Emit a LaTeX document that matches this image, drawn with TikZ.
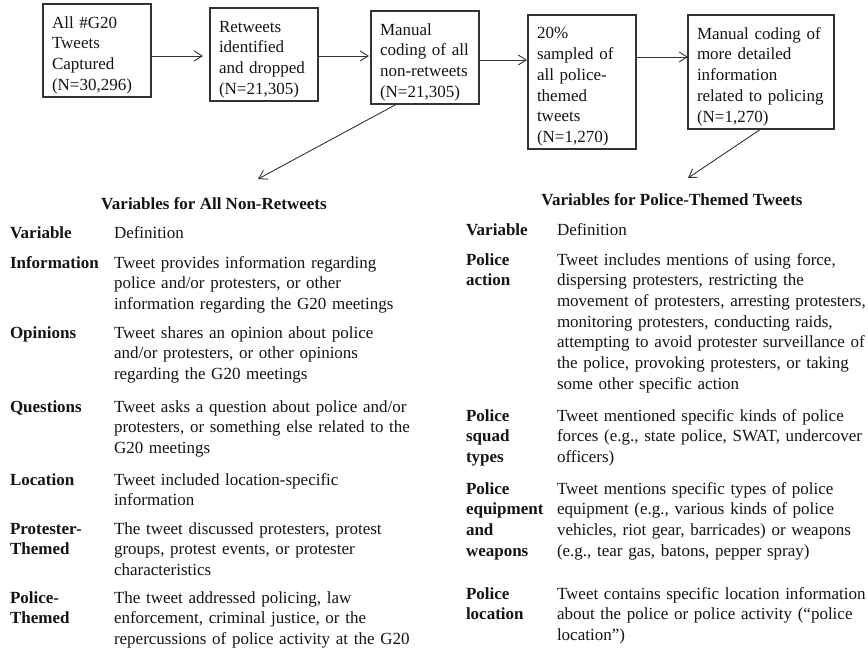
\documentclass[tikz,border=0pt]{standalone}
\usepackage{fontspec}
\setmainfont{Liberation Serif}
\usetikzlibrary{arrows.meta,calc}
\newcommand\boxtopgap{\rule{0pt}{21pt}}
\begin{document}
\begin{tikzpicture}[x=1pt,y=-1pt,
  every node/.style={inner sep=0pt, outer sep=0pt, font=\fontsize{17}{20.7}\selectfont, text=black!92},
  flowbox/.style={draw=black!80, line width=1.1pt, align=left, inner xsep=9pt, inner ysep=0pt, anchor=north west},
  arr/.style={draw=black!80, line width=0.9pt, -{Straight Barb[length=8pt,width=10pt]}},
  varcell/.style={anchor=base west, align=left, text width=100pt, font=\fontsize{17}{20.7}\selectfont\bfseries},
  defcell/.style={anchor=base west, align=left, text width=330pt},
  heading/.style={anchor=base, font=\fontsize{17}{20.7}\selectfont\bfseries},
]
\useasboundingbox[fill=white] (0,0) rectangle (868,650);

% flow boxes
\node[flowbox, text width=90pt, minimum height=93pt] (b1) at (43,4) {\boxtopgap All \#G20\\Tweets\\Captured\\(N=30,296)};
\node[flowbox, text width=90pt, minimum height=93pt] (b2) at (210,8) {\boxtopgap Retweets\\identified\\and dropped\\(N=21,305)};
\node[flowbox, text width=90pt, minimum height=93pt] (b3) at (371,11) {\boxtopgap Manual\\coding of all\\non-retweets\\(N=21,305)};
\node[flowbox, text width=90pt, minimum height=134pt] (b4) at (528,15) {\boxtopgap 20\%\\sampled of\\all police-\\themed\\tweets\\(N=1,270)};
\node[flowbox, text width=128pt, minimum height=114pt] (b5) at (688,15) {\boxtopgap Manual coding of\\more detailed\\information\\related to policing\\(N=1,270)};

\coordinate (ya) at (0,56);
\coordinate (yb) at (0,60);
\coordinate (yc) at (0,57);
\draw[arr, shorten >=7pt] (b1.east |- ya) -- (b2.west |- ya);
\draw[arr, shorten >=2pt] (b2.east |- ya) -- (b3.west |- ya);
\draw[arr, shorten >=1pt] (b3.east |- yb) -- (b4.west |- yb);
\draw[arr] (b4.east |- yc) -- (b5.west |- yc);

\coordinate (d1) at (258,179);
\coordinate (d2) at (688,178);
\draw[arr] ($(b3.south west)!0.24!(b3.south east)$) -- (d1);
\draw[arr] (b5.south) -- (d2);

% headings
\node[heading] (h1) at (214,209) {Variables for All Non-Retweets};
\node[heading] (h2) at (672,206) {Variables for Police-Themed Tweets};

% left table
\node[varcell] (lv0) at (10,238) {Variable};
\node[defcell] (ld0) at (114,238) {Definition};
\node[varcell] (lv1) at (10,268) {Information};
\node[defcell] (ld1) at (114,268) {Tweet provides information regarding\\police and/or protesters, or other\\information regarding the G20 meetings};
\node[varcell] (lv2) at (10,338) {Opinions};
\node[defcell] (ld2) at (114,338) {Tweet shares an opinion about police\\and/or protesters, or other opinions\\regarding the G20 meetings};
\node[varcell] (lv3) at (10,412) {Questions};
\node[defcell] (ld3) at (114,412) {Tweet asks a question about police and/or\\protesters, or something else related to the\\G20 meetings};
\node[varcell] (lv4) at (10,485) {Location};
\node[defcell] (ld4) at (114,485) {Tweet included location-specific\\information};
\node[varcell] (lv5) at (10,534) {Protester-\\Themed};
\node[defcell] (ld5) at (114,534) {The tweet discussed protesters, protest\\groups, protest events, or protester\\characteristics};
\node[varcell] (lv6) at (10,603) {Police-\\Themed};
\node[defcell] (ld6) at (114,603) {The tweet addressed policing, law\\enforcement, criminal justice, or the\\repercussions of police activity at the G20};

% right table
\node[varcell] (rv0) at (466,236) {Variable};
\node[defcell] (rd0) at (557,236) {Definition};
\node[varcell] (rv1) at (466,265) {Police\\action};
\node[defcell] (rd1) at (557,265) {Tweet includes mentions of using force,\\dispersing protesters, restricting the\\movement of protesters, arresting protesters,\\monitoring protesters, conducting raids,\\attempting to avoid protester surveillance of\\the police, provoking protesters, or taking\\some other specific action};
\node[varcell] (rv2) at (466,421) {Police\\squad\\types};
\node[defcell] (rd2) at (557,421) {Tweet mentioned specific kinds of police\\forces (e.g., state police, SWAT, undercover\\officers)};
\node[varcell] (rv3) at (466,494) {Police\\equipment\\and\\weapons};
\node[defcell] (rd3) at (557,494) {Tweet mentions specific types of police\\equipment (e.g., various kinds of police\\vehicles, riot gear, barricades) or weapons\\(e.g., tear gas, batons, pepper spray)};
\node[varcell] (rv4) at (466,599) {Police\\location};
\node[defcell] (rd4) at (557,599) {Tweet contains specific location information\\about the police or police activity (“police\\location”)};
\end{tikzpicture}
\end{document}
